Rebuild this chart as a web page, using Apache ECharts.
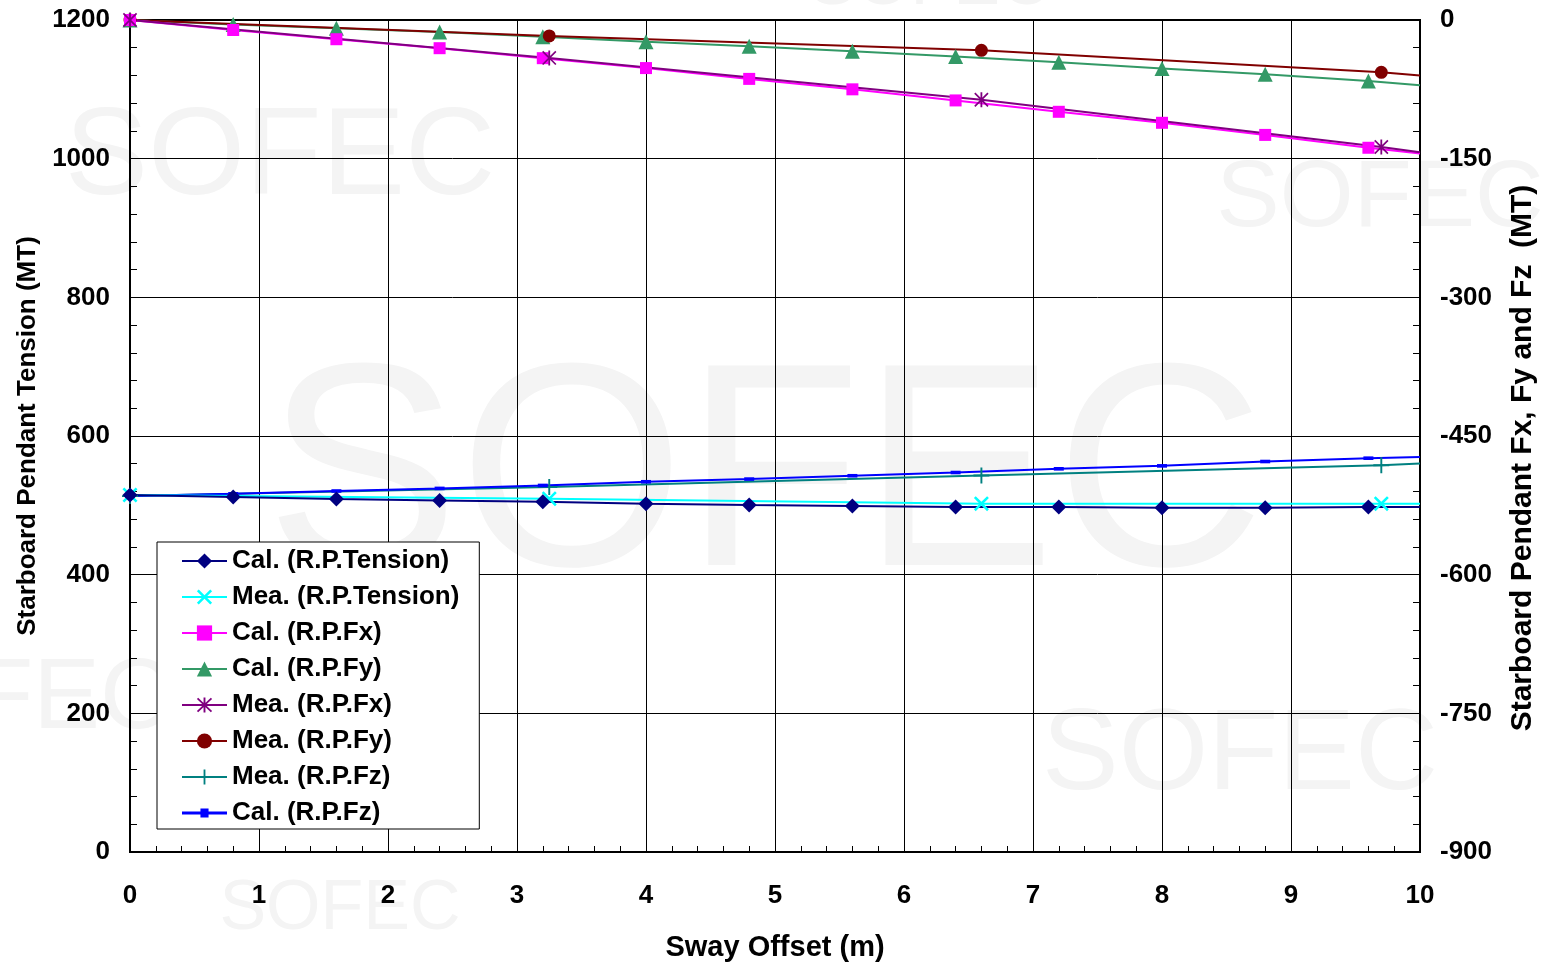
<!DOCTYPE html>
<html>
<head>
<meta charset="utf-8">
<script src="https://cdn.jsdelivr.net/npm/echarts@6/dist/echarts.min.js"></script>
<style>html,body{margin:0;padding:0;background:#fff}#c{width:1546px;height:967px}</style>
</head>
<body>
<div id="c"></div>
<script>
// ---- data ----
var xCal = [0, 0.8, 1.6, 2.4, 3.2, 4.0, 4.8, 5.6, 6.4, 7.2, 8.0, 8.8, 9.6, 10];
var calTension = [515, 512, 509, 507, 505, 502.4, 500.5, 499, 497.6, 497.6, 496.6, 496.6, 497.6, 497.5];
var calFx = [0, -10.8, -20.8, -30.5, -41.3, -52, -63.7, -75, -87, -99.3, -111.2, -124.3, -138.2, -144.5];
var calFy = [0, -4.8, -8.8, -13, -18, -23.5, -28.5, -33.8, -39.6, -45.8, -52.5, -58.8, -66, -70.5];
var calFz = [-515, -512.5, -509.5, -506.7, -503.5, -499.5, -496.6, -493, -489.5, -485.5, -482.3, -477.6, -474, -472.6];

var xMea = [0, 3.25, 6.6, 9.7, 10];
var meaTension = [515, 509.5, 502.4, 502.4, 502.4];
var meaFx = [0, -41, -86.3, -137.3, -143];
var meaFy = [0, -17.2, -32.8, -56.6, -60];
var meaFz = [-515, -505.3, -492.7, -481.6, -479.8];

var xTicks = [0,1,2,3,4,5,6,7,8,9,10];
var leftTicks = [0,200,400,600,800,1000,1200];
var rightTicks = [-900,-750,-600,-450,-300,-150,0];

var FONT = '"Liberation Sans", Arial, sans-serif';

var SYM_X = 'path://M12,0 L50,38 L88,0 L100,12 L62,50 L100,88 L88,100 L50,62 L12,100 L0,88 L38,50 L0,12 Z';
var SYM_PLUS = 'path://M44,0 H56 V44 H100 V56 H56 V100 H44 V56 H0 V44 H44 Z';
var SYM_AST = 'path://M44,0 H56 V100 H44 Z M10,2 L50,42 L90,2 L98,10 L58,50 L98,90 L90,98 L50,58 L10,98 L2,90 L42,50 L2,10 Z';
var SYM_DASH = 'path://M0,0 H100 V36 H0 Z';
var ICON_DASHLINE = 'path://M0,46.5 H100 V53.5 H0 Z M41,40 H59 V60 H41 Z';

function pts(xs, ys) {
  return xs.map(function (x, i) {
    if (x === 10) return { value: [x, ys[i]], symbol: 'none' };
    return [x, ys[i]];
  });
}

function ser(name, xs, ys, axis, color, symbol, size) {
  return {
    name: name, type: 'line', yAxisIndex: axis,
    data: pts(xs, ys),
    symbol: symbol, symbolSize: size, showSymbol: true, symbolKeepAspect: true,
    lineStyle: { color: color, width: 2 },
    itemStyle: { color: color },
    emphasis: { disabled: true },
    animation: false, z: 3
  };
}

function wm(x, y, size) {
  return { type: 'text', x: x, y: y, z: -10, silent: true,
    style: { text: 'SOFEC', fill: '#f4f4f4', font: 'normal ' + size + 'px ' + FONT,
      textAlign: 'center', textVerticalAlign: 'middle' } };
}

var chart = echarts.init(document.getElementById('c'));
chart.setOption({
  animation: false,
  graphic: [
    wm(765, 485, 290),
    wm(280, 160, 125),
    wm(1380, 200, 95),
    wm(1240, 757, 115),
    wm(0, 700, 100),
    wm(340, 910, 70),
    wm(930, -15, 70)
  ],
  grid: { left: 130, right: 125, top: 20, bottom: 111, show: true, borderColor: '#000', borderWidth: 2, backgroundColor: 'transparent' },
  xAxis: {
    type: 'value', min: 0, max: 10, interval: 1,
    name: 'Sway Offset (m)', nameLocation: 'middle', nameGap: 81,
    nameTextStyle: { fontFamily: FONT, fontWeight: 'bold', fontSize: 29, color: '#000' },
    axisLine: { show: true, lineStyle: { color: '#000', width: 2 } },
    axisTick: { show: true, inside: true, length: 8, lineStyle: { color: '#000' } },
    minorTick: { show: true, splitNumber: 5, length: 6, lineStyle: { color: '#000' } },
    splitLine: { show: true, lineStyle: { color: '#000', width: 1 } },
    axisLabel: { margin: 31, fontFamily: FONT, fontWeight: 'bold', fontSize: 26, color: '#000',
      formatter: function (v) { return xTicks.indexOf(v) >= 0 ? String(v) : ''; } }
  },
  yAxis: [
    {
      type: 'value', min: 0, max: 1200, interval: 200, position: 'left',
      name: 'Starboard Pendant Tension (MT)', nameLocation: 'middle', nameGap: 88,
      nameTextStyle: { fontFamily: FONT, fontWeight: 'bold', fontSize: 26, color: '#000' },
      axisLine: { show: true, lineStyle: { color: '#000', width: 2 } },
      axisTick: { show: true, inside: true, length: 8, lineStyle: { color: '#000' } },
      minorTick: { show: true, splitNumber: 5, length: 7, lineStyle: { color: '#000' } },
      splitLine: { show: true, lineStyle: { color: '#000', width: 1 } },
      axisLabel: { margin: 20, fontFamily: FONT, fontWeight: 'bold', fontSize: 26, color: '#000',
        formatter: function (v) { return leftTicks.indexOf(v) >= 0 ? String(v) : ''; } }
    },
    {
      type: 'value', min: -900, max: 0, interval: 150, position: 'right',
      name: 'Starboard Pendant Fx, Fy and Fz  (MT)', nameLocation: 'middle', nameGap: 88,
      nameRotate: 90,
      nameTextStyle: { fontFamily: FONT, fontWeight: 'bold', fontSize: 30, color: '#000', padding: [0, 44, 0, 0] },
      axisLine: { show: true, lineStyle: { color: '#000', width: 2 } },
      axisTick: { show: true, inside: true, length: 8, lineStyle: { color: '#000' } },
      minorTick: { show: true, splitNumber: 5, length: 7, lineStyle: { color: '#000' } },
      splitLine: { show: false },
      axisLabel: { margin: 20, fontFamily: FONT, fontWeight: 'bold', fontSize: 26, color: '#000',
        formatter: function (v) { return rightTicks.indexOf(v) >= 0 ? String(v) : ''; } }
    }
  ],
  legend: {
    orient: 'vertical', left: 157, top: 542,
    backgroundColor: '#fff', borderColor: '#000', borderWidth: 1,
    padding: [6, 20, 3, 24], itemGap: 10, itemWidth: 45, itemHeight: 19,
    textStyle: { fontFamily: FONT, fontWeight: 'bold', fontSize: 26, color: '#000', lineHeight: 26 },
    data: ['Cal. (R.P.Tension)', 'Mea. (R.P.Tension)', 'Cal. (R.P.Fx)', 'Cal. (R.P.Fy)',
           'Mea. (R.P.Fx)', 'Mea. (R.P.Fy)', 'Mea. (R.P.Fz)',
           { name: 'Cal. (R.P.Fz)', icon: ICON_DASHLINE }]
  },
  series: [
    ser('Mea. (R.P.Fz)', xMea, meaFz, 1, '#008080', SYM_PLUS, 16),
    ser('Cal. (R.P.Fz)', xCal, calFz, 1, '#0000FF', SYM_DASH, 10),
    ser('Mea. (R.P.Tension)', xMea, meaTension, 0, '#00FFFF', SYM_X, 15),
    ser('Cal. (R.P.Tension)', xCal, calTension, 0, '#000080', 'diamond', 15),
    ser('Cal. (R.P.Fy)', xCal, calFy, 1, '#339966', 'triangle', 15),
    ser('Mea. (R.P.Fy)', xMea, meaFy, 1, '#800000', 'circle', 13),
    ser('Cal. (R.P.Fx)', xCal, calFx, 1, '#FF00FF', 'rect', 12),
    ser('Mea. (R.P.Fx)', xMea, meaFx, 1, '#800080', SYM_AST, 15)
  ]
});
</script>
</body>
</html>
